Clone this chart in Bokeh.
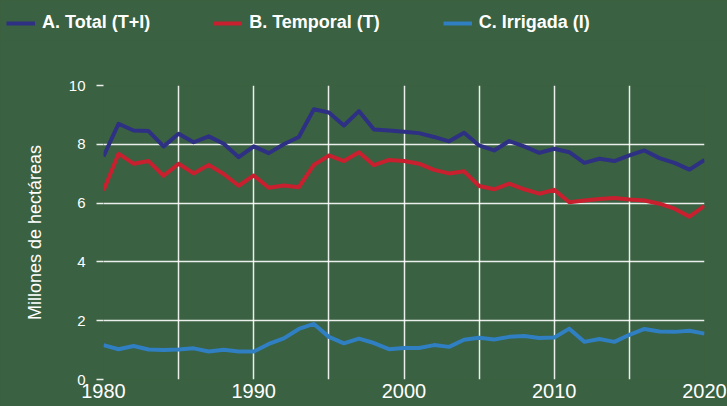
from bokeh.plotting import figure
from bokeh.layouts import column
from bokeh.models import (ColumnDataSource, FixedTicker, Legend, LegendItem,
                          GlobalInlineStyleSheet, Range1d)
from bokeh.embed import file_html
from bokeh.resources import INLINE

years = list(range(1980, 2021))
total = [7.59, 8.70, 8.47, 8.45, 7.93, 8.36, 8.07, 8.27, 8.02, 7.56,
         7.93, 7.70, 8.00, 8.25, 9.19, 9.08, 8.64, 9.13, 8.50, 8.47,
         8.43, 8.38, 8.25, 8.10, 8.39, 7.96, 7.79, 8.11, 7.93, 7.71,
         7.85, 7.73, 7.37, 7.51, 7.43, 7.62, 7.79, 7.53, 7.37, 7.14, 7.47]
temporal = [6.43, 7.68, 7.34, 7.43, 6.93, 7.34, 7.01, 7.30, 6.99, 6.59,
            6.94, 6.52, 6.60, 6.54, 7.30, 7.62, 7.43, 7.73, 7.29, 7.47,
            7.43, 7.34, 7.13, 7.01, 7.08, 6.58, 6.47, 6.66, 6.47, 6.32,
            6.45, 6.03, 6.09, 6.14, 6.17, 6.12, 6.09, 5.98, 5.81, 5.54, 5.91]
irrigada = [1.17, 1.03, 1.14, 1.02, 1.00, 1.02, 1.06, 0.95, 1.01, 0.95,
            0.95, 1.21, 1.40, 1.72, 1.89, 1.45, 1.23, 1.39, 1.24, 1.03,
            1.07, 1.07, 1.17, 1.11, 1.35, 1.42, 1.36, 1.45, 1.48, 1.41,
            1.43, 1.73, 1.28, 1.38, 1.28, 1.52, 1.72, 1.63, 1.62, 1.66, 1.56]

series_keys = ["total", "temporal", "irrigada"]
series_labels = ["A. Total (T+I)", "B. Temporal (T)", "C. Irrigada (I)"]
series_colors = ["#2e3084", "#c8202f", "#2f7fc2"]
x_label_ticks = [1980, 1990, 2000, 2010, 2020]
x_grid_ticks = list(range(1980, 2021, 5))
y_ticks = [0, 2, 4, 6, 8, 10]
y_title = "Millones de hectáreas"

BG = "#3a6141"

src = ColumnDataSource(dict(year=years, total=total, temporal=temporal, irrigada=irrigada))

# ---- legend strip (own figure above the chart) ----
lg = figure(width=727, height=40, output_backend="svg", toolbar_location=None,
            x_axis_location=None, y_axis_location=None,
            x_range=Range1d(1980, 2020), y_range=Range1d(20, 30),
            min_border_left=0, min_border_right=0, min_border_top=0,
            min_border_bottom=0, frame_align=False)
lg.background_fill_color = BG
lg.border_fill_color = BG
lg.outline_line_color = None
lg.grid.visible = False
lg_renderers = [lg.line("year", k, source=src, line_color=c, line_width=4)
                for k, c in zip(series_keys, series_colors)]
legend = Legend(items=[LegendItem(label=l, renderers=[r]) for l, r in zip(series_labels, lg_renderers)],
                orientation="horizontal", location=(6, 7),
                glyph_width=29, glyph_height=20, label_height=20,
                label_standoff=7, spacing=63, padding=0, margin=0,
                border_line_color=None, background_fill_alpha=0,
                label_text_color="white", label_text_font="Liberation Sans",
                label_text_font_style="bold", label_text_font_size="18px")
lg.add_layout(legend, "center")

# ---- main chart ----
p = figure(width=727, height=366, output_backend="svg", toolbar_location=None,
           x_range=Range1d(1980, 2020), y_range=Range1d(0, 10),
           min_border_left=103, min_border_right=23, min_border_top=45,
           min_border_bottom=27, frame_align=False)
p.background_fill_color = BG
p.border_fill_color = BG
p.outline_line_color = None

for k, c in zip(series_keys, series_colors):
    p.line("year", k, source=src, line_color=c, line_width=4, line_join="round")

p.xgrid.ticker = FixedTicker(ticks=x_grid_ticks)
p.ygrid.ticker = FixedTicker(ticks=y_ticks)
for g in (p.xgrid[0], p.ygrid[0]):
    g.grid_line_color = "white"
    g.grid_line_width = 1.5
    g.grid_line_alpha = 0.9

xa = p.xaxis[0]
xa.ticker = FixedTicker(ticks=x_label_ticks)
xa.axis_line_color = None
xa.major_tick_line_color = None
xa.minor_tick_line_color = None
xa.major_tick_out = 0
xa.major_tick_in = 0
xa.major_label_standoff = 4
xa.major_label_text_color = "white"
xa.major_label_text_font = "Liberation Sans"
xa.major_label_text_font_size = "20px"

ya = p.yaxis[0]
ya.ticker = FixedTicker(ticks=y_ticks)
ya.axis_line_color = None
ya.major_tick_line_color = "white"
ya.major_tick_line_width = 1.5
ya.major_tick_line_alpha = 0.9
ya.major_tick_out = 7
ya.major_tick_in = 0
ya.minor_tick_line_color = None
ya.major_label_standoff = 11
ya.major_label_text_color = "white"
ya.major_label_text_font = "Liberation Sans"
ya.major_label_text_font_size = "15px"
ya.axis_label = y_title
ya.axis_label_text_color = "white"
ya.axis_label_text_font = "Liberation Sans"
ya.axis_label_text_font_style = "normal"
ya.axis_label_text_font_size = "18px"
ya.axis_label_standoff = 21

layout = column(lg, p, spacing=0,
                stylesheets=[GlobalInlineStyleSheet(css="body{background:%s;}" % BG)])

open("out.html", "w").write(file_html(layout, INLINE))
